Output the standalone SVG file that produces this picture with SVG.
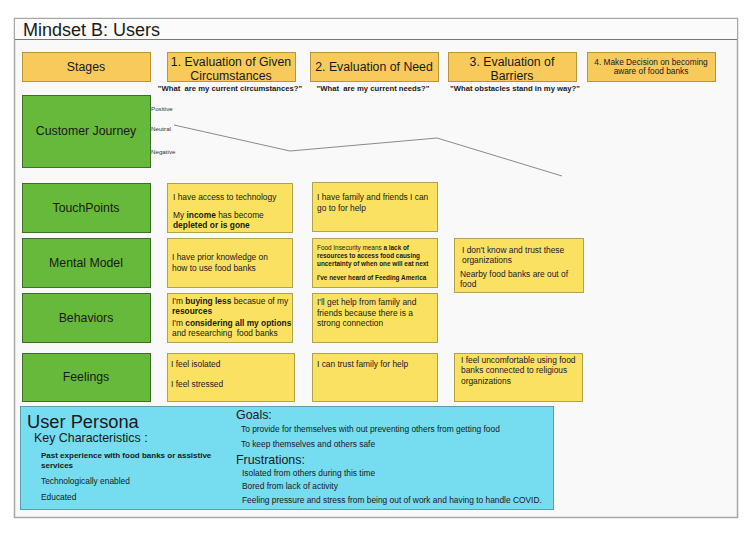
<svg xmlns="http://www.w3.org/2000/svg" width="750" height="539" viewBox="0 0 750 539">
<style>
text{font-family:"Liberation Sans",Arial,sans-serif;fill:#1a1a1a}
.stage{fill:#f8ca5c;stroke:#b8963a;stroke-width:1}
.green{fill:#66b93b;stroke:#3e6e2a;stroke-width:1}
.note{fill:#fbe162;stroke:#b0a24e;stroke-width:1}
.lbl{font-size:12.3px;text-anchor:middle}
.n{font-size:8.4px}
.s{font-size:6.4px}
.b{font-weight:bold}
.q{font-size:7.7px;font-weight:bold;text-anchor:middle;white-space:pre}
.ax{font-size:6.2px;fill:#333}
.p{font-size:8.4px}
.ph{font-size:12.4px}
</style>
<rect x="0" y="0" width="750" height="539" fill="#ffffff"/>
<rect x="14.5" y="18.5" width="723" height="499" fill="#f9f9f9" stroke="#a8a8a8" stroke-width="1.5"/>
<rect x="15" y="19" width="722" height="20" fill="#fbfbfb"/>
<line x1="15" y1="39.5" x2="737" y2="39.5" stroke="#777" stroke-width="1"/>
<text x="23" y="36" style="font-size:18px">Mindset B: Users</text>

<g id="stage-label"><rect class="stage" x="22.5" y="52.5" width="128" height="29"/><text class="lbl" x="86" y="71">Stages</text></g>
<g id="stage-1"><rect class="stage" x="167.5" y="52.5" width="128" height="29"/><text class="lbl" x="231" y="65.5">1. Evaluation of Given</text><text class="lbl" x="231" y="80">Circumstances</text></g>
<g id="stage-2"><rect class="stage" x="310.5" y="52.5" width="128" height="29"/><text class="lbl" x="374" y="71">2. Evaluation of Need</text></g>
<g id="stage-3"><rect class="stage" x="448.5" y="52.5" width="128" height="29"/><text class="lbl" x="512" y="65.5">3. Evaluation of</text><text class="lbl" x="512" y="80">Barriers</text></g>
<g id="stage-4"><rect class="stage" x="587.5" y="52.5" width="128" height="29"/><text x="651" y="64.5" style="font-size:8.3px;text-anchor:middle">4. Make Decision on becoming</text><text x="651" y="73.5" style="font-size:8.3px;text-anchor:middle">aware of food banks</text></g>

<g id="questions">
<text class="q" x="230" y="91" xml:space="preserve">"What  are my current circumstances?"</text>
<text class="q" x="373" y="91" xml:space="preserve">"What  are my current needs?"</text>
<text class="q" x="515" y="91">"What obstacles stand in my way?"</text>
</g>

<g id="customer-journey"><rect class="green" x="22.5" y="95.5" width="128" height="72"/><text class="lbl" x="86" y="135">Customer Journey</text>
<text class="ax" x="151" y="111">Positive</text><text class="ax" x="151" y="131">Neutral</text><text class="ax" x="151" y="154">Negative</text></g>
<g id="connectors"><polyline points="174,125 290,151 437,138 562,176" fill="none" stroke="#8a8a8a" stroke-width="1"/></g>

<g id="touchpoints"><rect class="green" x="22.5" y="183.5" width="128" height="49"/><text class="lbl" x="86" y="212">TouchPoints</text></g>
<g id="mental-model"><rect class="green" x="22.5" y="238.5" width="128" height="49"/><text class="lbl" x="86" y="267">Mental Model</text></g>
<g id="behaviors"><rect class="green" x="22.5" y="293.5" width="128" height="49"/><text class="lbl" x="86" y="322">Behaviors</text></g>
<g id="feelings"><rect class="green" x="22.5" y="353.5" width="128" height="48"/><text class="lbl" x="86" y="381">Feelings</text></g>

<g id="tp-1"><rect class="note" x="167.5" y="183.5" width="125" height="49"/><text class="n" x="173" y="200">I have access to technology</text><text class="n" x="173" y="217.5">My <tspan class="b">income</tspan> has become</text><text class="n b" x="173" y="228">depleted or is gone</text></g>
<g id="tp-2"><rect class="note" x="312.5" y="182.5" width="125" height="49"/><text class="n" x="317" y="200">I have family and friends I can</text><text class="n" x="317" y="210.5">go to for help</text></g>

<g id="mm-1"><rect class="note" x="167.5" y="238.5" width="125" height="49"/><text class="n" x="172" y="260">I have prior knowledge on</text><text class="n" x="172" y="270.5">how to use food banks</text></g>
<g id="mm-2"><rect class="note" x="312.5" y="238.5" width="125" height="49"/><text class="s" x="317" y="250">Food Insecurity means <tspan class="b">a lack of</tspan></text><text class="s b" x="317" y="258">resources to access food causing</text><text class="s b" x="317" y="266">uncertainty of when one will eat next</text><text class="s b" x="317" y="280">I've never heard of Feeding America</text></g>
<g id="mm-3"><rect class="note" x="454.5" y="238.5" width="129" height="54"/><text class="n" x="462" y="252.5">I don't know and trust these</text><text class="n" x="462" y="263">organizations</text><text class="n" x="460" y="276.5">Nearby food banks are out of</text><text class="n" x="460" y="287">food</text></g>

<g id="bh-1"><rect class="note" x="167.5" y="293.5" width="125" height="49"/><text class="n" x="172" y="304">I'm <tspan class="b">buying less</tspan> becasue of my</text><text class="n b" x="172" y="314">resources</text><text class="n" x="172" y="326">I'm <tspan class="b">considering all my options</tspan></text><text class="n" x="172" y="336" xml:space="preserve">and researching  food banks</text></g>
<g id="bh-2"><rect class="note" x="312.5" y="293.5" width="125" height="49"/><text class="n" x="317" y="305">I'll get help from family and</text><text class="n" x="317" y="315.5">friends because there is a</text><text class="n" x="317" y="326">strong connection</text></g>

<g id="fe-1"><rect class="note" x="167.5" y="353.5" width="127" height="48"/><text class="n" x="171" y="366.5">I feel isolated</text><text class="n" x="171" y="386.5">I feel stressed</text></g>
<g id="fe-2"><rect class="note" x="312.5" y="353.5" width="125" height="48"/><text class="n" x="317" y="366.5">I can trust family for help</text></g>
<g id="fe-3"><rect class="note" x="454.5" y="353.5" width="128" height="48"/><text class="n" x="461" y="362.5">I feel uncomfortable using food</text><text class="n" x="461" y="373">banks connected to religious</text><text class="n" x="461" y="383.5">organizations</text></g>

<g id="user-persona"><rect x="20.5" y="406.5" width="533" height="103" fill="#76dcf0" stroke="#5a9fb0" stroke-width="1"/>
<text x="27" y="428" style="font-size:18.3px">User Persona</text>
<text class="ph" x="34" y="442">Key Characteristics :</text>
<text x="41" y="457.5" style="font-size:8px;font-weight:bold">Past experience with food banks or assistive</text>
<text x="41" y="467.5" style="font-size:8px;font-weight:bold">services</text>
<text class="p" x="41" y="484">Technologically enabled</text>
<text class="p" x="41" y="499.5">Educated</text>
<text class="ph" x="236" y="418.5">Goals:</text>
<text class="p" x="241" y="431.5">To provide for themselves with out preventing others from getting food</text>
<text class="p" x="241" y="446.5">To keep themselves and others safe</text>
<text class="ph" x="236" y="464">Frustrations:</text>
<text class="p" x="242" y="475.5">Isolated from others during this time</text>
<text class="p" x="242" y="489">Bored from lack of activity</text>
<text class="p" x="242" y="502.5">Feeling pressure and stress from being out of work and having to handle COVID.</text>
</g>
</svg>
